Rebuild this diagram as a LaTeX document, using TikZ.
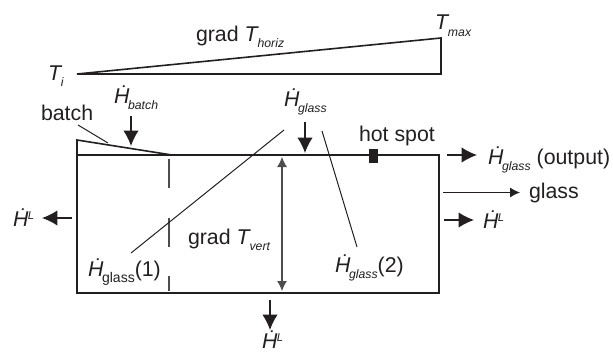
\documentclass[tikz,border=0pt]{standalone}
\usepackage{fontspec}
\setmainfont{Liberation Sans}
\usetikzlibrary{arrows.meta}
\definecolor{inkdark}{HTML}{231F20}
\newcommand{\Hdot}{\textit{\.{H}}}
\newcommand{\lowsub}[1]{\kern-1pt\raisebox{-5pt}{\fontsize{9.2}{10}\selectfont\itshape #1}}
\newcommand{\upsup}[1]{\raisebox{5pt}{\fontsize{8.5}{9}\selectfont\itshape #1}}
\tikzset{
    lbl/.style={anchor=base west, inner sep=0pt, outer sep=0pt, text=inkdark, font=\fontsize{16}{18}\selectfont},
    wall/.style={line width=1.2pt, draw=inkdark},
    leader/.style={line width=0.75pt, draw=inkdark},
    heatflow/.style={line width=1pt, draw=inkdark, -{Latex[length=11.5pt, width=11.5pt]}},
    thinflow/.style={line width=0.8pt, draw=inkdark, -{Latex[length=7.5pt, width=7.5pt]}},
}
\begin{document}
\begin{tikzpicture}[x=0.75pt, y=-0.75pt]
    \useasboundingbox (0,0) rectangle (613,353);
    % Gradiente horizontal
    \draw[wall, line join=miter] (77,74) -- (441,74) -- (441,38) -- cycle;
    \node[lbl] (gradhoriz) at (196,41) {grad \textit{T}\lowsub{horiz}};
    \node[lbl] (ti) at (48,80) {\textit{T}\lowsub{i}};
    \node[lbl] (tmax) at (435,30) {\textit{T}\lowsub{max}};
    % Tanque
    \draw[wall] (77,155) rectangle (439,293);
    \draw[wall] (77,155) -- (77,140) -- (172,155);
    \fill[inkdark] (369,149) rectangle (378,163);
    \draw[line width=1pt, draw=inkdark!80, dash pattern=on 22pt off 22pt] (169,159) -- (169,291);
    % Textos y lineas de referencia
    \node[lbl] (batch) at (41,120) {batch};
    \node[lbl] (hotspot) at (359,141) {hot spot};
    \node[lbl] (glass) at (529,198) {glass};
    \node[lbl] (gradvert) at (188,244) {grad \textit{T}\lowsub{vert}};
    \node[lbl] (hbatch) at (114,103) {\Hdot\lowsub{batch}};
    \node[lbl] (hglass) at (284,106) {\Hdot\lowsub{glass}};
    \node[lbl] (hoonelbl) at (88,276) {\Hdot\kern-1pt\raisebox{-5pt}{\fontsize{10.5}{11}\selectfont glass}(1)};
    \node[lbl] (htwolbl) at (335,272) {\Hdot\lowsub{glass}(2)};
    \node[lbl] (houtput) at (488,164) {\Hdot\lowsub{glass} (output)};
    \node[lbl] (hleft) at (13,226) {\Hdot\kern-.5pt\upsup{L}};
    \node[lbl] (hright) at (483,228) {\Hdot\kern-.5pt\upsup{L}};
    \node[lbl] (hbottom) at (262,348) {\Hdot\kern-.5pt\upsup{L}};
    \coordinate (batchfoot) at (78,125);
    \coordinate (batchtip) at (108,143);
    \coordinate (oneend) at (131,253);
    \coordinate (onestart) at (284,130);
    \coordinate (twostart) at (322,131);
    \coordinate (twoend) at (357,247);
    \draw[leader] (batchfoot) -- (batchtip);
    \draw[leader] (onestart) -- (oneend);
    \draw[leader] (twostart) -- (twoend);
    % Flechas
    \coordinate (hbatchfrom) at (131,116);
    \coordinate (hbatchto) at (131,146);
    \coordinate (hglassfrom) at (305,122);
    \coordinate (hglassto) at (305,153);
    \coordinate (outfrom) at (447,155);
    \coordinate (outto) at (477,155);
    \coordinate (rightfrom) at (444,220);
    \coordinate (rightto) at (474,220);
    \coordinate (leftfrom) at (72,218);
    \coordinate (leftto) at (42,218);
    \coordinate (downfrom) at (270,300);
    \coordinate (downto) at (270,330);
    \coordinate (glassfrom) at (443,192.5);
    \coordinate (glassto) at (520,192.5);
    \coordinate (vertup) at (282,157);
    \coordinate (vertdown) at (282,291);
    \draw[heatflow] (hbatchfrom) -- (hbatchto);
    \draw[heatflow] (hglassfrom) -- (hglassto);
    \draw[heatflow] (outfrom) -- (outto);
    \draw[heatflow] (rightfrom) -- (rightto);
    \draw[heatflow] (leftfrom) -- (leftto);
    \draw[heatflow] (downfrom) -- (downto);
    \draw[thinflow] (glassfrom) -- (glassto);
    \draw[thinflow, {Latex[length=7.5pt, width=7.5pt]}-{Latex[length=7.5pt, width=7.5pt]}, draw=inkdark!80] (vertup) -- (vertdown);
\end{tikzpicture}
\end{document}
